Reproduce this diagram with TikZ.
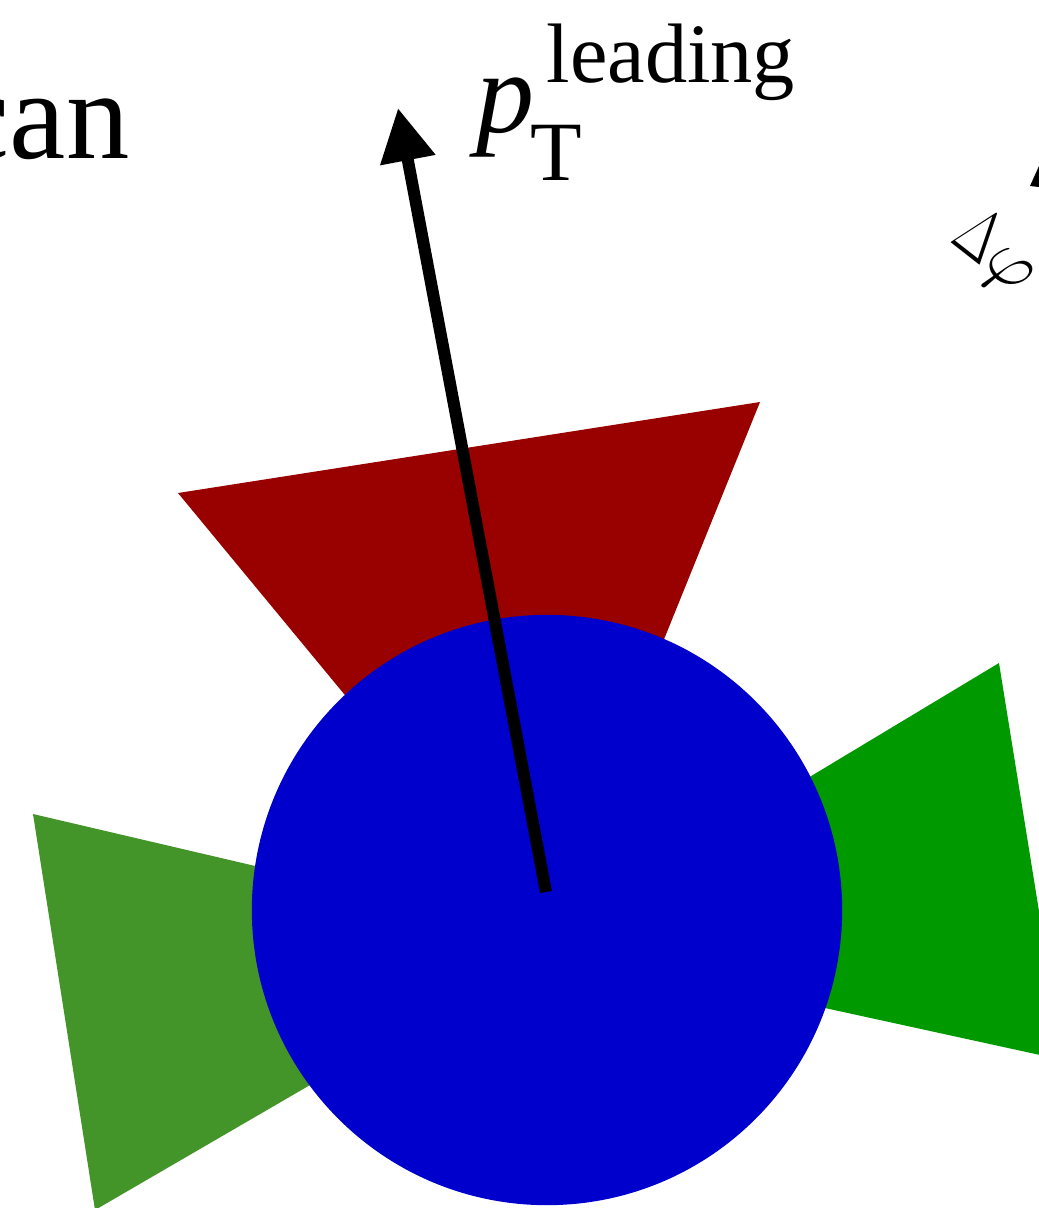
\documentclass[tikz,border=0pt]{standalone}
\usepackage{fontspec}
\setmainfont{Liberation Serif}
\usetikzlibrary{arrows.meta}
\definecolor{conered}{HTML}{990000}
\definecolor{coneright}{HTML}{009900}
\definecolor{coneleft}{HTML}{43952A}
\definecolor{coreblue}{HTML}{0000CC}

\begin{document}
\begin{tikzpicture}[x=0.01cm, y=-0.01cm,
    lbl/.style={inner sep=0pt, anchor=base west},
  ]
    \useasboundingbox (0,0) rectangle (1039,1208);
    \clip (0,0) rectangle (1039,1208);
    % cones
    \fill[conered] (178,493) -- (760,402) -- (544,936) -- cycle;
    \fill[coneright] (999,663) -- (1063,1060) -- (532,944) -- cycle;
    \fill[coneleft] (33,814) -- (95,1210) -- (563,938) -- cycle;
    \node[circle, fill=coreblue, minimum size=5.9cm, inner sep=0pt] (core) at (547,910) {};
    % leading track
    \coordinate (ptail) at (546,892);
    \coordinate (ptip) at (398,108);
    \draw[-{Triangle[length=0.53cm,width=0.53cm]}, line width=0.12cm] (ptail) -- (ptip);
    \node[lbl, font=\fontsize{33}{36}\selectfont] (pt) at (476,132) {\itshape p};
    \node[lbl, font=\fontsize{24}{28}\selectfont] (ptsup) at (546,82) {leading};
    \node[lbl, font=\fontsize{24}{28}\selectfont] (ptsub) at (530,180) {T};
    \node[inner sep=0pt, anchor=base east, font=\fontsize{36}{40}\selectfont] (scan) at (130,158) {can};
    % delta phi
    \node[lbl, rotate=-38, font=\fontsize{21}{25}\selectfont] (dphi) at (949,241) {\scalebox{0.72}[1]{$\Delta$}\fontsize{22}{26}\selectfont$\varphi$};
    \fill (1030,186) -- (1048,146) -- (1048,188) -- cycle;
\end{tikzpicture}
\end{document}
